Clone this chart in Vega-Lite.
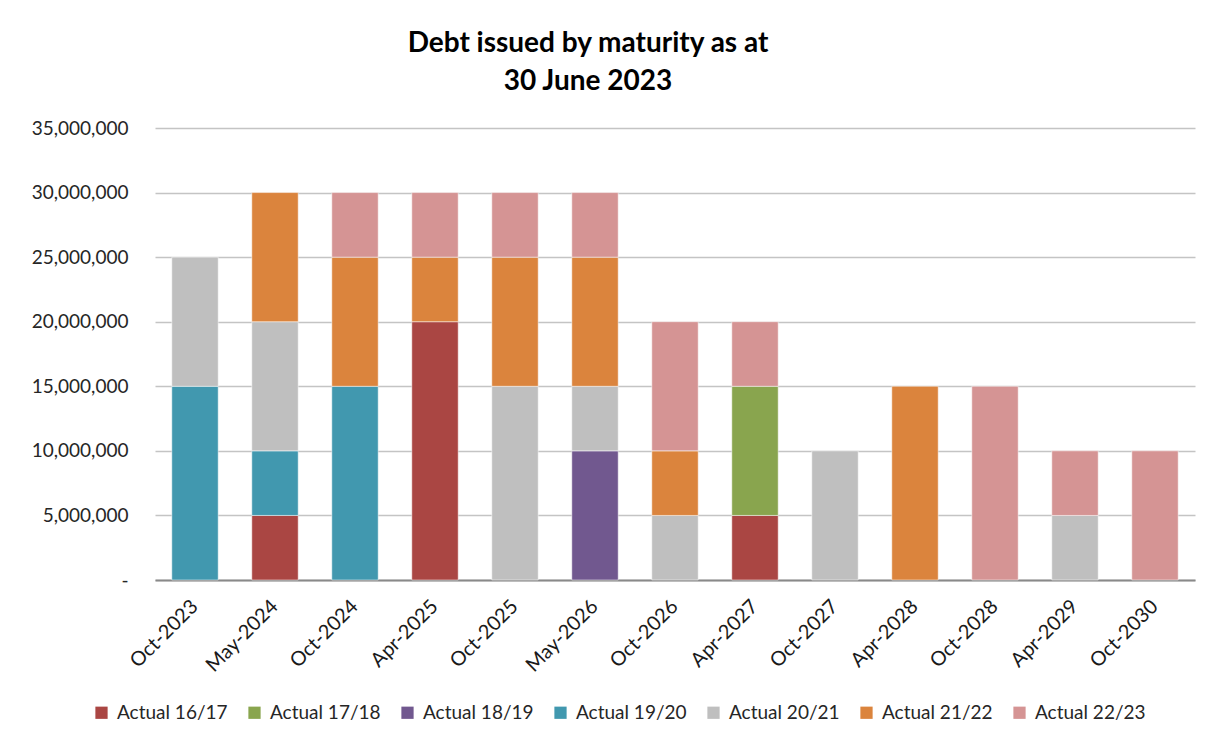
{
  "$schema": "https://vega.github.io/schema/vega-lite/v6.json",
  "width": 1040,
  "height": 452,
  "autosize": {"type": "none"},
  "padding": {"left": 155, "top": 128, "right": 31, "bottom": 162},
  "background": "white",
  "title": {
    "text": ["Debt issued by maturity as at", "30 June 2023"],
    "font": "Lato",
    "fontSize": 28,
    "fontWeight": "bold",
    "color": "#000000",
    "anchor": "middle",
    "frame": "group",
    "dx": -87,
    "offset": 23,
    "lineHeight": 38
  },
  "data": {
    "values": [
      {"date": "Oct-2023", "series": "Actual 19/20", "value": 15000000},
      {"date": "Oct-2023", "series": "Actual 20/21", "value": 10000000},
      {"date": "May-2024", "series": "Actual 16/17", "value": 5000000},
      {"date": "May-2024", "series": "Actual 19/20", "value": 5000000},
      {"date": "May-2024", "series": "Actual 20/21", "value": 10000000},
      {"date": "May-2024", "series": "Actual 21/22", "value": 10000000},
      {"date": "Oct-2024", "series": "Actual 19/20", "value": 15000000},
      {"date": "Oct-2024", "series": "Actual 21/22", "value": 10000000},
      {"date": "Oct-2024", "series": "Actual 22/23", "value": 5000000},
      {"date": "Apr-2025", "series": "Actual 16/17", "value": 20000000},
      {"date": "Apr-2025", "series": "Actual 21/22", "value": 5000000},
      {"date": "Apr-2025", "series": "Actual 22/23", "value": 5000000},
      {"date": "Oct-2025", "series": "Actual 20/21", "value": 15000000},
      {"date": "Oct-2025", "series": "Actual 21/22", "value": 10000000},
      {"date": "Oct-2025", "series": "Actual 22/23", "value": 5000000},
      {"date": "May-2026", "series": "Actual 18/19", "value": 10000000},
      {"date": "May-2026", "series": "Actual 20/21", "value": 5000000},
      {"date": "May-2026", "series": "Actual 21/22", "value": 10000000},
      {"date": "May-2026", "series": "Actual 22/23", "value": 5000000},
      {"date": "Oct-2026", "series": "Actual 20/21", "value": 5000000},
      {"date": "Oct-2026", "series": "Actual 21/22", "value": 5000000},
      {"date": "Oct-2026", "series": "Actual 22/23", "value": 10000000},
      {"date": "Apr-2027", "series": "Actual 16/17", "value": 5000000},
      {"date": "Apr-2027", "series": "Actual 17/18", "value": 10000000},
      {"date": "Apr-2027", "series": "Actual 22/23", "value": 5000000},
      {"date": "Oct-2027", "series": "Actual 20/21", "value": 10000000},
      {"date": "Apr-2028", "series": "Actual 21/22", "value": 15000000},
      {"date": "Oct-2028", "series": "Actual 22/23", "value": 15000000},
      {"date": "Apr-2029", "series": "Actual 20/21", "value": 5000000},
      {"date": "Apr-2029", "series": "Actual 22/23", "value": 5000000},
      {"date": "Oct-2030", "series": "Actual 22/23", "value": 10000000}
    ]
  },
  "mark": {"type": "bar", "stroke": "white", "strokeWidth": 0.5},
  "encoding": {
    "x": {
      "field": "date",
      "type": "nominal",
      "sort": ["Oct-2023", "May-2024", "Oct-2024", "Apr-2025", "Oct-2025", "May-2026", "Oct-2026", "Apr-2027", "Oct-2027", "Apr-2028", "Oct-2028", "Apr-2029", "Oct-2030"],
      "scale": {"paddingInner": 0.42, "paddingOuter": 0.21},
      "axis": {
        "title": null,
        "labelAngle": -45,
        "labelAlign": "right",
        "labelBaseline": "middle",
        "labelFont": "Lato",
        "labelFontSize": 20,
        "labelColor": "#1a1a1a",
        "labelPadding": 23,
        "ticks": false,
        "domain": true,
        "domainColor": "#898989",
        "domainWidth": 2,
        "grid": false
      }
    },
    "y": {
      "field": "value",
      "type": "quantitative",
      "aggregate": "sum",
      "stack": "zero",
      "scale": {"domain": [0, 35000000], "nice": false},
      "axis": {
        "title": null,
        "values": [0, 5000000, 10000000, 15000000, 20000000, 25000000, 30000000, 35000000],
        "labelExpr": "datum.value == 0 ? '-\u00a0\u00a0\u00a0' : format(datum.value, ',')",
        "labelFont": "Lato",
        "labelFontSize": 19,
        "labelColor": "#262626",
        "labelPadding": 27,
        "ticks": false,
        "domain": false,
        "grid": true,
        "gridColor": "#C4C4C4",
        "gridWidth": 1.5
      }
    },
    "color": {
      "field": "series",
      "type": "nominal",
      "scale": {
        "domain": ["Actual 16/17", "Actual 17/18", "Actual 18/19", "Actual 19/20", "Actual 20/21", "Actual 21/22", "Actual 22/23"],
        "range": ["#AA4643", "#89A54E", "#71588F", "#4198AF", "#BFBFBF", "#DB843D", "#D59494"]
      },
      "legend": {
        "title": null,
        "orient": "none",
        "direction": "horizontal",
        "legendX": -63,
        "legendY": 575,
        "symbolType": "square",
        "symbolSize": 150,
        "symbolStrokeWidth": 0,
        "labelFont": "Lato",
        "labelFontSize": 19,
        "labelColor": "#262626",
        "labelOffset": 6,
        "columnPadding": 17
      }
    },
    "order": {"field": "series", "type": "nominal", "sort": "ascending"}
  },
  "config": {"view": {"stroke": null}}
}
